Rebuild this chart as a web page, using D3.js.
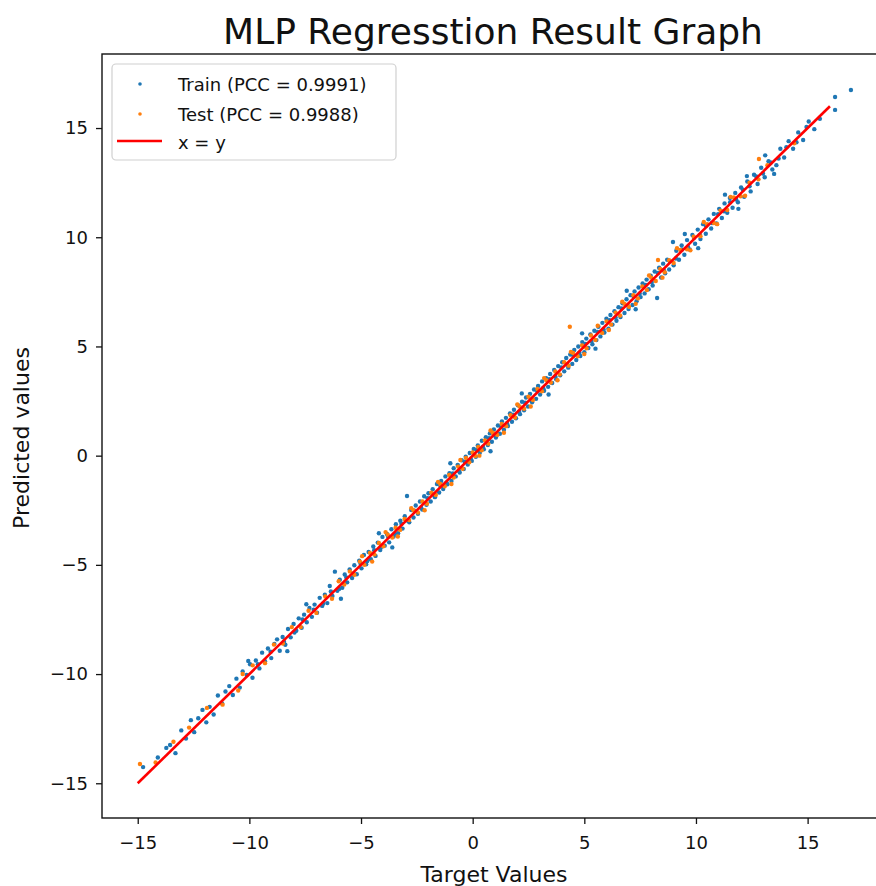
<!DOCTYPE html>
<html>
<head>
<meta charset="utf-8">
<script src="https://cdn.jsdelivr.net/npm/d3@7"></script>
<style>
  html, body { margin: 0; padding: 0; background: #fff; overflow: hidden; }
  svg { display: block; }
  text { font-family: "DejaVu Sans", sans-serif; fill: #111; }
</style>
</head>
<body>
<svg id="chart" width="876" height="886"></svg>
<script>
// ---------------- data ----------------
const title = "MLP Regresstion Result Graph";
const xLabel = "Target Values";
const yLabel = "Predicted values";
const xTicks = [-15, -10, -5, 0, 5, 10, 15];
const yTicks = [-15, -10, -5, 0, 5, 10, 15];
const legendLabels = ["Train (PCC = 0.9991)", "Test (PCC = 0.9988)", "x = y"];
const identityLine = [-15, 16];

// [target, predicted]
const trainPoints = [
[-14.76,-14.26],[-14.1,-13.82],[-13.72,-13.38],[-13.55,-13.25],[-13.31,-13.62],[-13.05,-12.58],[-12.84,-12.95],[-12.62,-12.11],[-12.47,-12.66],[-12.29,-12.02],
[-12.1,-11.64],[-11.93,-12.21],[-11.78,-11.5],[-11.6,-11.85],[-11.41,-10.98],[-11.22,-11.35],[-11.07,-10.8],[-10.9,-10.55],[-10.74,-10.96],[-10.58,-10.21],
[-10.43,-10.62],[-10.3,-9.88],[-10.12,-10.04],[-9.97,-9.55],[-9.86,-10.17],[-9.71,-9.38],[-9.55,-9.74],[-9.43,-9.02],[-9.3,-9.41],[-9.17,-8.83],
[-9.02,-9.27],[-8.88,-8.62],[-8.76,-8.41],[-8.64,-8.93],[-8.51,-8.3],[-8.39,-8.66],[-8.27,-7.94],[-8.15,-8.32],[-8.02,-7.71],[-7.9,-8.02],
[-7.79,-7.45],[-7.66,-7.88],[-7.55,-7.28],[-7.43,-7.63],[-7.31,-6.97],[-7.2,-7.38],[-7.08,-6.82],[-6.97,-7.19],[-6.85,-6.51],[-6.74,-6.88],
[-6.62,-6.37],[-6.51,-6.75],[-6.4,-5.97],[-6.28,-6.42],[-6.17,-5.31],[-6.06,-6.19],[-5.95,-5.68],[-5.84,-6.05],[-5.73,-5.44],[-5.62,-5.8],
[-5.51,-5.21],[-5.4,-5.6],[-5.3,-5.02],[-5.19,-5.43],[-5.08,-4.81],[-4.98,-5.16],[-4.87,-4.55],[-4.77,-4.97],[-4.66,-4.41],[-4.56,-4.74],
[-4.45,-4.16],[-4.35,-4.59],[-4.25,-3.98],[-4.14,-4.32],[-4.04,-3.72],[-3.94,-4.12],[-3.84,-3.59],[-3.74,-3.97],[-3.64,-3.37],[-3.54,-3.7],
[-3.44,-3.14],[-3.34,-3.55],[-3.24,-2.98],[-3.14,-3.34],[-3.04,-2.77],[-2.94,-1.85],[-2.84,-3.05],[-2.75,-2.49],[-2.65,-2.83],[-2.55,-2.28],
[-2.45,-2.66],[-2.36,-2.1],[-2.26,-2.47],[-2.17,-1.86],[-2.07,-2.25],[-1.98,-1.72],[-1.88,-2.1],[-1.79,-1.54],[-1.69,-1.9],[-1.6,-1.3],
[-1.5,-1.69],[-1.41,-1.16],[-1.32,-1.53],[-1.22,-0.95],[-1.13,-1.31],[-1.04,-0.8],[-0.95,-1.16],[-0.85,-0.58],[-0.76,-0.95],[-0.67,-0.42],
[-0.58,-0.77],[-0.49,-0.21],[-0.4,-0.61],[-0.31,-0.05],[-0.22,-0.41],[-0.13,0.12],[-0.04,-0.24],[0.05,0.31],[0.14,-0.05],[0.23,0.47],
[0.32,0.13],[0.41,0.68],[0.5,0.29],[0.59,0.84],[0.68,0.49],[0.77,1.02],[0.86,0.64],[0.95,1.2],[1.04,0.83],[1.13,1.38],
[1.22,1.0],[1.31,1.57],[1.4,1.19],[1.49,1.73],[1.58,1.36],[1.67,1.93],[1.76,1.55],[1.85,2.1],[1.94,1.71],[2.03,2.31],
[2.12,1.9],[2.21,2.47],[2.3,2.08],[2.39,2.66],[2.48,2.25],[2.57,2.83],[2.66,2.44],[2.75,3.03],[2.84,2.6],[2.93,3.19],
[3.02,2.8],[3.11,3.4],[3.2,2.97],[3.29,3.55],[3.38,3.15],[3.47,3.74],[3.56,3.33],[3.65,3.92],[3.74,3.5],[3.83,4.1],
[3.92,3.68],[4.01,4.28],[4.1,3.86],[4.19,4.47],[4.28,4.03],[4.37,4.63],[4.46,4.2],[4.55,4.84],[4.64,4.38],[4.73,5.0],
[4.82,4.56],[4.91,5.2],[5.0,4.74],[5.09,5.36],[5.18,4.93],[5.27,5.55],[5.36,5.1],[5.45,5.72],[5.54,5.29],[5.63,5.9],
[5.72,5.46],[5.81,6.08],[5.9,5.64],[5.99,6.27],[6.08,5.81],[6.17,6.44],[6.26,6.0],[6.35,6.61],[6.44,6.18],[6.53,6.8],
[6.62,6.35],[6.71,6.98],[6.8,6.53],[6.89,7.16],[6.98,6.71],[7.07,7.35],[7.16,6.9],[7.25,7.52],[7.34,7.07],[7.43,7.7],
[7.52,7.26],[7.61,7.88],[7.7,7.43],[7.79,8.06],[7.88,7.62],[7.97,8.24],[8.06,7.79],[8.15,8.43],[8.26,7.22],[8.35,8.6],
[8.44,8.16],[8.53,8.79],[8.62,8.35],[8.71,8.97],[8.8,8.52],[8.97,9.78],[9.0,8.72],[9.12,9.38],[9.24,8.97],[9.36,9.63],
[9.48,9.2],[9.6,9.87],[9.72,9.44],[9.84,10.1],[9.96,9.7],[10.08,10.35],[10.2,9.92],[10.32,10.6],[10.44,10.16],[10.56,10.82],
[10.68,10.4],[10.8,11.07],[10.92,10.63],[11.04,11.3],[11.16,10.88],[11.28,11.55],[11.4,11.12],[11.52,11.8],[11.64,11.35],[11.76,12.03],
[11.88,11.6],[12.02,12.28],[12.16,11.85],[12.28,12.8],[12.3,12.55],[12.45,12.1],[12.6,12.86],[12.76,12.44],[12.92,13.18],[13.08,12.75],
[13.25,13.48],[13.42,13.1],[13.6,13.3],[13.78,14.05],[13.95,13.65],[14.15,14.4],[14.35,14.05],[14.58,14.8],[14.8,14.45],[15.05,15.3],
[15.3,14.95],[15.55,15.42],[16.23,16.42],[16.23,15.83],[16.94,16.74],
[-9.62,-9.55],[-9.05,-8.98],[-8.45,-8.52],[-7.98,-8.1],[-7.62,-7.5],[-7.12,-7.05],[-6.7,-6.78],[-6.35,-6.22],[-5.98,-6.1],[-5.66,-5.58],
[-5.35,-5.41],[-5.02,-4.94],[-4.72,-4.82],[-4.41,-4.33],[-4.1,-4.18],[-3.79,-3.7],[-3.49,-3.58],[-3.19,-3.12],[-2.9,-2.98],[-2.6,-2.52],
[-2.31,-2.38],[-2.02,-1.95],[-1.73,-1.8],[-1.45,-1.38],[-1.17,-1.24],[-0.89,-0.82],[-0.62,-0.69],[-0.35,-0.28],[-0.08,-0.15],[0.19,0.26],
[0.46,0.4],[0.73,0.8],[1.0,0.93],[1.27,1.34],[1.54,1.47],[1.81,1.88],[2.08,2.01],[2.35,2.42],[2.62,2.55],[2.89,2.96],
[3.16,3.09],[3.43,3.5],[3.7,3.63],[3.97,4.04],[4.24,4.17],[4.51,4.58],[4.78,4.71],[5.05,5.12],[5.32,5.25],[5.59,5.66],
[5.86,5.79],[6.13,6.2],[6.4,6.33],[6.67,6.74],[6.94,6.87],[7.21,7.28],[7.48,7.41],[7.75,7.82],[8.02,7.95],[8.29,8.36],
[8.56,8.49],[8.83,8.9],[9.1,9.03],[9.37,9.44],[9.64,9.57],[9.91,9.98],[10.18,10.11],[10.45,10.52],[10.72,10.65],[10.99,11.06],
[11.26,11.19],[11.53,11.6],[11.8,11.73],[12.1,12.18],[12.4,12.33],[12.7,12.78],[13.0,12.92],[13.35,13.42],[13.7,13.6],[14.05,14.12],
[14.5,14.35],[14.95,15.05],
[-10.05,-9.4],[-8.3,-8.95],[-7.45,-6.8],[-5.9,-6.55],[-4.2,-3.55],[-3.6,-4.2],[-1.0,-0.35],[0.8,0.2],[2.2,2.85],[3.4,2.8],
[4.9,5.6],[5.5,4.9],[6.9,7.55],[7.3,6.7],[9.5,10.15],[10.1,9.5],[11.3,11.95],[11.9,11.3],[13.1,13.75],[13.5,12.9]
];

const testPoints = [
[-14.9,-14.12],[-14.2,-14.05],[-13.4,-13.1],[-12.7,-12.45],[-11.9,-11.55],[-11.2,-11.4],[-10.5,-10.75],[-10.3,-10.0],[-9.85,-9.6],[-9.3,-9.5],
[-8.9,-8.65],[-8.5,-8.6],[-8.1,-7.85],[-7.7,-7.85],[-7.35,-7.1],[-7.0,-7.2],[-6.6,-6.45],[-6.3,-6.55],[-6.0,-5.75],[-5.75,-5.9],
[-5.5,-5.3],[-5.3,-5.45],[-5.05,-4.85],[-4.85,-5.0],[-4.6,-4.45],[-4.4,-4.52],[-4.2,-4.0],[-4.0,-4.15],[-3.8,-3.62],[-3.6,-3.75],
[-3.45,-3.3],[-3.25,-3.4],[-3.05,-2.9],[-2.85,-2.95],[-2.65,-2.5],[-2.45,-2.6],[-2.25,-2.1],[-2.05,-2.2],[-1.85,-1.7],[-1.65,-1.8],
[-1.45,-1.3],[-1.25,-1.4],[-1.05,-0.88],[-0.85,-1.0],[-0.65,-0.5],[-0.45,-0.6],[-0.3,-0.1],[-0.15,-0.3],[0.0,0.15],[0.12,-0.02],
[0.25,0.4],[0.4,0.25],[0.55,0.7],[0.7,0.55],[0.9,1.05],[1.1,0.95],[1.3,1.45],[1.5,1.35],[1.7,1.85],[1.9,1.75],
[2.1,2.25],[2.3,2.15],[2.5,2.7],[2.7,2.55],[2.9,3.05],[3.1,2.95],[3.3,3.45],[3.5,3.35],[3.7,3.85],[3.9,3.72],
[4.1,4.28],[4.3,4.12],[4.35,5.9],[4.5,4.7],[4.7,4.55],[4.9,5.05],[5.1,4.92],[5.3,5.5],[5.5,5.3],[5.8,5.62],
[6.0,6.15],[6.2,6.0],[6.4,6.55],[6.6,6.42],[6.8,6.95],[7.0,6.82],[7.2,7.35],[7.4,7.2],[7.6,7.75],[7.8,7.58],
[8.0,8.15],[8.2,8.0],[8.3,8.96],[8.4,8.55],[8.6,8.4],[8.8,8.95],[9.0,8.82],[9.3,9.42],[9.6,9.45],[9.9,10.02],
[10.2,10.05],[10.5,10.6],[10.8,10.65],[11.1,11.22],[11.4,11.25],[11.7,11.82],[12.0,11.88],[12.4,12.5],[12.82,13.58],[12.8,12.65],
[13.2,13.3],[14.4,14.3],
[-4.95,-4.6],[-4.5,-4.85],[-3.9,-3.5],[-3.35,-3.7],[-2.75,-2.4],[-2.15,-2.5],[-1.55,-1.2],[-0.95,-1.3],[-0.55,-0.2],[0.3,0.0],
[0.8,1.15],[1.4,1.05],[2.0,2.35],[2.6,2.25],[3.2,3.55],[3.8,3.45],[4.4,4.75],[5.0,4.65],[5.6,5.95],[6.1,5.75],
[6.7,7.05],[7.3,6.95],[7.9,8.25],[8.5,8.15],[9.15,9.5],[9.75,9.4],[10.35,10.7],[10.95,10.6],[11.55,11.85],[12.2,11.9]
];

// ---------------- layout ----------------
const svg = d3.select("#chart");
const plot = { left: 102, right: 888, top: 54, bottom: 818 };

const x = d3.scaleLinear().domain([-16.6, 18.6]).range([plot.left, plot.right]);
const y = d3.scaleLinear().domain([-16.59, 18.39]).range([plot.bottom, plot.top]);

const C0 = "#1f77b4", C1 = "#ff7f0e", RED = "#ff0000";

// points
svg.append("g").selectAll("circle").data(trainPoints).join("circle")
  .attr("cx", d => x(d[0])).attr("cy", d => y(d[1])).attr("r", 2.2).attr("fill", C0);
svg.append("g").selectAll("circle").data(testPoints).join("circle")
  .attr("cx", d => x(d[0])).attr("cy", d => y(d[1])).attr("r", 2.2).attr("fill", C1);

// x = y line
svg.append("line")
  .attr("x1", x(identityLine[0])).attr("y1", y(identityLine[0]))
  .attr("x2", x(identityLine[1])).attr("y2", y(identityLine[1]))
  .attr("stroke", RED).attr("stroke-width", 2.6);

// spines
const spine = svg.append("g").attr("stroke", "#111").attr("stroke-width", 1.4).attr("fill", "none");
spine.append("rect").attr("x", plot.left).attr("y", plot.top)
  .attr("width", plot.right - plot.left).attr("height", plot.bottom - plot.top);

// axes
const fmt = d => d3.format("")(d);
const xAxis = svg.append("g").attr("transform", `translate(0,${plot.bottom})`)
  .call(d3.axisBottom(x).tickValues(xTicks).tickSize(6).tickPadding(12).tickFormat(fmt));
const yAxis = svg.append("g").attr("transform", `translate(${plot.left},0)`)
  .call(d3.axisLeft(y).tickValues(yTicks).tickSize(6).tickPadding(8).tickFormat(fmt));
[xAxis, yAxis].forEach(a => {
  a.select(".domain").remove();
  a.selectAll(".tick line").attr("stroke", "#111").attr("stroke-width", 1.3);
  a.selectAll(".tick text").attr("font-size", 18).attr("font-family", "DejaVu Sans, sans-serif").attr("fill", "#111");
});

// title and labels
svg.append("text").attr("x", 493).attr("y", 44).attr("text-anchor", "middle")
  .attr("font-size", 36).text(title);
svg.append("text").attr("x", 494).attr("y", 882).attr("text-anchor", "middle")
  .attr("font-size", 22).text(xLabel);
svg.append("text").attr("transform", "translate(29,438) rotate(-90)").attr("text-anchor", "middle")
  .attr("font-size", 22).text(yLabel);

// legend
const lg = svg.append("g");
lg.append("rect").attr("x", 112).attr("y", 64).attr("width", 284).attr("height", 96).attr("rx", 4)
  .attr("fill", "#fff").attr("fill-opacity", 0.85).attr("stroke", "#d0d0d0").attr("stroke-width", 1.2);
lg.append("circle").attr("cx", 140).attr("cy", 84).attr("r", 1.8).attr("fill", C0);
lg.append("circle").attr("cx", 140).attr("cy", 114).attr("r", 1.8).attr("fill", C1);
lg.append("line").attr("x1", 117).attr("x2", 162).attr("y1", 141).attr("y2", 141)
  .attr("stroke", RED).attr("stroke-width", 2.6);
const lgY = [91, 121, 149];
legendLabels.forEach((t, i) => {
  lg.append("text").attr("x", 178).attr("y", lgY[i]).attr("font-size", 18).text(t);
});
</script>
</body>
</html>
